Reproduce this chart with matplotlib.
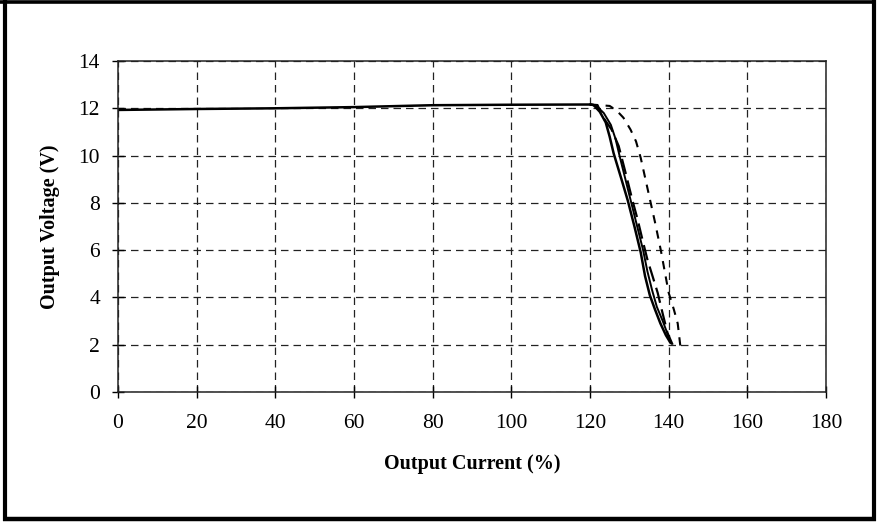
import matplotlib
matplotlib.use("Agg")
import matplotlib.pyplot as plt
from matplotlib.lines import Line2D

# ---- data ----
flat_x = [0, 20, 40, 60, 80, 100, 120]
flat_y = [11.93, 11.97, 12.0, 12.05, 12.13, 12.15, 12.16]

a_x = [120.9, 122.5, 124.0, 125.0, 126.0, 128.0, 129.6, 131.3, 132.9, 134.0, 135.2, 136.5, 137.9, 139.3, 140.5]
a_y = [12.14, 11.85, 11.4, 10.8, 10.1, 9.0, 8.1, 7.0, 5.9, 4.9, 4.1, 3.5, 2.9, 2.4, 2.07]

b_x = [121.5, 123.5, 125.3, 126.5, 127.5, 129.0, 130.5, 132.0, 133.5, 134.6, 135.8, 137.0, 138.5, 140.5]
b_y = [12.12, 11.8, 11.3, 10.7, 10.0, 9.0, 8.0, 7.0, 6.0, 5.1, 4.3, 3.6, 3.0, 2.1]

c_x = [122.0, 123.4, 125.5, 127.3, 129.0, 130.8, 132.1, 133.4, 134.6, 135.9, 137.2, 138.5, 139.7, 141.0]
c_y = [12.1, 11.6, 11.1, 10.4, 9.3, 8.1, 7.3, 6.4, 5.6, 4.9, 4.2, 3.3, 2.5, 2.0]

d_x = [121.0, 125.0, 126.8, 128.5, 130.3, 131.7, 132.9, 134.9, 136.5, 138.0, 140.0, 141.3, 142.3, 143.0]
d_y = [12.15, 12.1, 11.9, 11.6, 11.1, 10.6, 9.9, 8.4, 7.2, 6.0, 4.2, 3.5, 2.9, 1.9]

x_ticks = [0, 20, 40, 60, 80, 100, 120, 140, 160, 180]
y_ticks = [0, 2, 4, 6, 8, 10, 12, 14]

x_label = "Output Current (%)"
y_label = "Output Voltage (V)"

# ---- figure ----
W, H = 882, 522
fig = plt.figure(figsize=(W / 100, H / 100), dpi=100)
plt.rcParams['font.family'] = ['Liberation Serif', 'DejaVu Serif']

ax = fig.add_axes([118 / W, 1 - 392 / H, (826 - 118) / W, (392 - 61) / H])

ax.plot(flat_x + a_x, flat_y + a_y, color='black', lw=1.8, solid_capstyle='round',
        solid_joinstyle='round')
ax.plot(flat_x[-1:] + b_x, flat_y[-1:] + b_y, color='black', lw=1.4, solid_joinstyle='round')
ax.plot(flat_x[-1:] + c_x, flat_y[-1:] + c_y, color='black', lw=1.6, dashes=(7, 3))
ax.plot(flat_x[-1:] + d_x, flat_y[-1:] + d_y, color='black', lw=1.5, dashes=(4, 3.5))

ax.set_xlim(0, 180)
ax.set_ylim(0, 14)
ax.set_xticks(x_ticks)
ax.set_yticks(y_ticks)
ax.grid(True, color='#222222', lw=0.9, dashes=(6, 4))
ax.set_axisbelow(True)

for s in ax.spines.values():
    s.set_linewidth(1.1)
    s.set_color('#222222')

ax.tick_params(direction='inout', length=8, width=1.0, labelsize=15.5, colors='black')
ax.tick_params(axis='x', pad=12)
ax.tick_params(axis='y', pad=9)

ax.set_xlabel(x_label, fontsize=14.5, fontweight='bold', labelpad=15)
ax.set_ylabel(y_label, fontsize=14.5, fontweight='bold', labelpad=13)

# outer frame
def fline(x0, y0, x1, y1, lw):
    fig.add_artist(Line2D([x0 / W, x1 / W], [1 - y0 / H, 1 - y1 / H],
                          transform=fig.transFigure, color='black', lw=lw,
                          solid_capstyle='butt'))

fline(0, 1.5, 874, 1.5, 2.6)
fline(4.5, 0, 4.5, 521, 3.0)
fline(874, 0, 874, 521, 3.0)
fline(3, 519, 876, 519, 3.2)

fig.savefig("out.png", dpi=100)
